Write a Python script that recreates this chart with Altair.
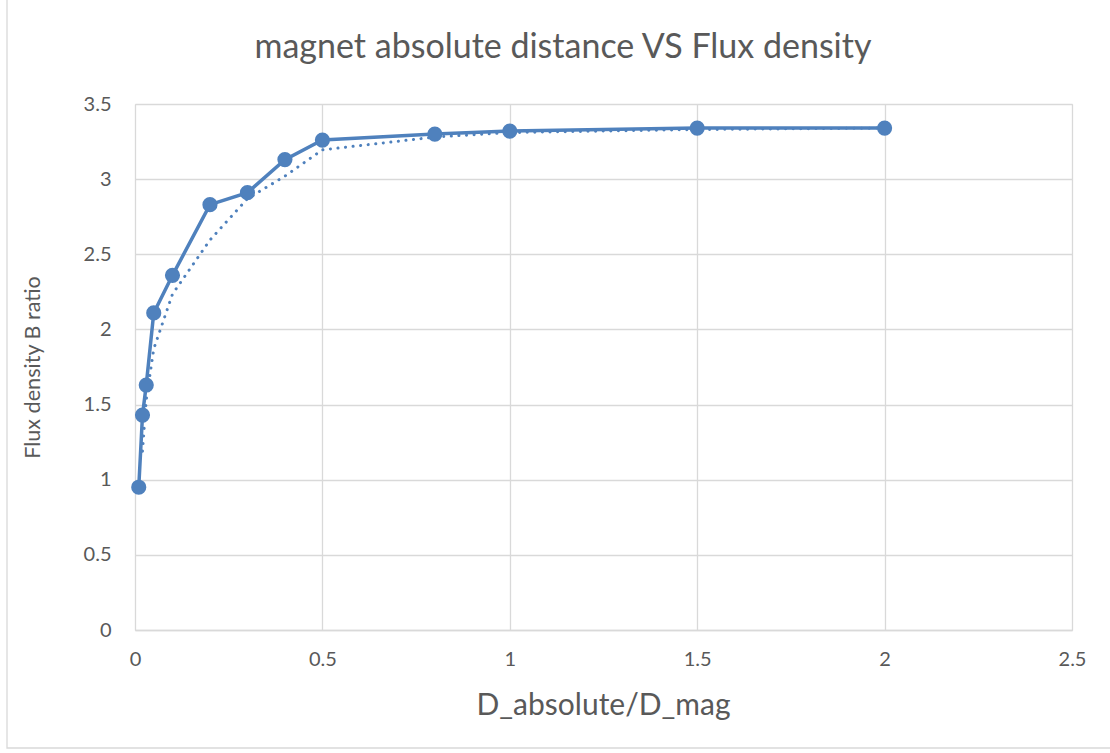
import altair as alt
import pandas as pd

x_vals = [0.01, 0.02, 0.03, 0.05, 0.1, 0.2, 0.3, 0.4, 0.5, 0.8, 1.0, 1.5, 2.0]
b_ratio = [0.95, 1.43, 1.63, 2.11, 2.36, 2.83, 2.91, 3.13, 3.26, 3.30, 3.32, 3.34, 3.34]
# dotted trend line (2-period moving average)
trend_x = [0.02, 0.03, 0.05, 0.1, 0.2, 0.3, 0.4, 0.5, 0.8, 1.0, 1.5, 2.0]
trend_y = [1.19, 1.53, 1.87, 2.235, 2.595, 2.87, 3.02, 3.195, 3.28, 3.31, 3.33, 3.34]

x_ticks = [0, 0.5, 1, 1.5, 2, 2.5]
y_ticks = [0, 0.5, 1, 1.5, 2, 2.5, 3, 3.5]
title_text = ["magnet absolute distance VS Flux density"]

df = pd.DataFrame({"x": x_vals, "y": b_ratio})
dft = pd.DataFrame({"x": trend_x, "y": trend_y})

COLOR = "#4f81bd"
TEXT = "#595959"
FONT = "Lato"

xenc = alt.X("x:Q", scale=alt.Scale(domain=[0, 2.5], nice=False, zero=True),
             axis=alt.Axis(values=x_ticks, title="D_absolute/D_mag", grid=True,
                           gridColor="#d9d9d9", gridWidth=1.3, domain=True,
                           domainColor="#d9d9d9", domainWidth=1.3, ticks=False,
                           labelPadding=19, labelFontSize=20, labelFont=FONT,
                           labelColor=TEXT, titleFont=FONT, titleFontSize=30,
                           titleFontWeight="normal", titleColor=TEXT,
                           titleX=468, titleY=75, titleBaseline="middle",
                           labelFlush=False, format="~g"))
yenc = alt.Y("y:Q", scale=alt.Scale(domain=[0, 3.5], nice=False, zero=True),
             axis=alt.Axis(values=y_ticks, title="Flux density B ratio", grid=True,
                           gridColor="#d9d9d9", gridWidth=1.3, domain=False,
                           ticks=False, labelPadding=24, labelFontSize=20,
                           labelFont=FONT, labelColor=TEXT, titleFont=FONT,
                           titleFontSize=21.6, titleFontWeight="normal",
                           titleColor=TEXT, titleX=-102, titleY=263,
                           titleBaseline="middle", titleAngle=-90,
                           labelFlush=False, format="~g"))

main = alt.Chart(df).mark_line(
    color=COLOR, strokeWidth=3.5,
    point=alt.OverlayMarkDef(filled=True, color=COLOR, size=230, opacity=1)
).encode(x=xenc, y=yenc)

trend = alt.Chart(dft).mark_line(
    color=COLOR, strokeWidth=3, strokeDash=[0.1, 7.5], strokeCap="round"
).encode(x="x:Q", y="y:Q")

frame = alt.Chart(pd.DataFrame({"a": [0]})).mark_rect(
    fill=None, stroke="#d9d9d9", strokeWidth=1.3
).encode(x=alt.value(-128), x2=alt.value(1000), y=alt.value(-120), y2=alt.value(644))

title = alt.Chart(pd.DataFrame({"t": title_text})).mark_text(
    font=FONT, fontSize=34, color=TEXT, align="center", baseline="middle"
).encode(text="t:N", x=alt.value(428), y=alt.value(-56))

chart = alt.layer(frame, trend, main, title).properties(
    width=937, height=526,
    autosize=alt.AutoSizeParams(type="none"),
    padding={"left": 135, "top": 104, "right": 38, "bottom": 123},
).configure_view(stroke=None).configure(background="white")

chart.save("out.html", embed_options={"renderer": "svg", "actions": False})
